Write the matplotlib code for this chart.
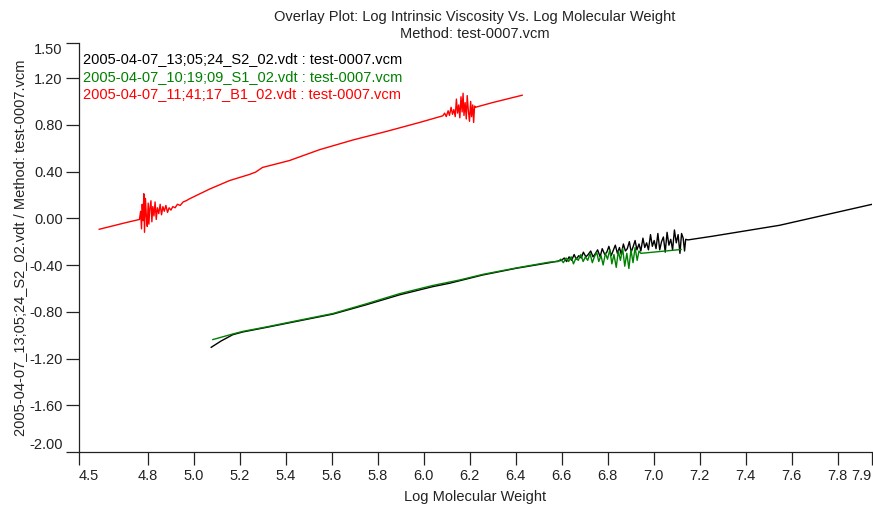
'''
Overlay plot of log intrinsic viscosity vs. log molecular weight for three runs.
'''
import matplotlib.pyplot as plt

plt.rcParams['font.family'] = ['Liberation Sans', 'DejaVu Sans']

# run S2 (black)
s2_x = [5.077, 5.12, 5.171, 5.214, 5.316, 5.461, 5.606, 5.751, 5.896, 6.04,
        6.113, 6.258, 6.403, 6.548,
        6.600, 6.612, 6.622, 6.633, 6.644, 6.655, 6.664, 6.675, 6.686, 6.695,
        6.706, 6.716, 6.727, 6.737, 6.748, 6.757, 6.768, 6.777, 6.788, 6.797,
        6.806, 6.816, 6.826, 6.834, 6.843, 6.852, 6.860, 6.869, 6.878, 6.886,
        6.895, 6.903, 6.912, 6.920, 6.928, 6.937, 6.945, 6.954, 6.962, 6.970,
        6.978, 6.987, 6.995, 7.003, 7.011, 7.019, 7.027, 7.035, 7.043, 7.051,
        7.059, 7.067, 7.075, 7.083, 7.091, 7.099, 7.107, 7.115, 7.122, 7.129,
        7.135, 7.140,
        7.15, 7.258, 7.548, 7.949]
s2_y = [-1.104, -1.05, -0.996, -0.973, -0.934, -0.877, -0.82, -0.74, -0.655, -0.585,
        -0.556, -0.485, -0.428, -0.38,
        -0.36, -0.34, -0.37, -0.33, -0.36, -0.31, -0.35, -0.32, -0.34, -0.29,
        -0.33, -0.31, -0.28, -0.33, -0.30, -0.27, -0.33, -0.26, -0.31, -0.29,
        -0.24, -0.32, -0.27, -0.23, -0.30, -0.25, -0.31, -0.22, -0.28, -0.26,
        -0.20, -0.29, -0.24, -0.19, -0.27, -0.22, -0.28, -0.17, -0.25, -0.21,
        -0.27, -0.14, -0.24, -0.19, -0.26, -0.13, -0.27, -0.20, -0.16, -0.29,
        -0.12, -0.23, -0.18, -0.27, -0.10, -0.21, -0.14, -0.30, -0.13, -0.17,
        -0.28, -0.18,
        -0.185, -0.153, -0.06, 0.119]

# run S1 (green)
s1_x = [5.084, 5.171, 5.214, 5.316, 5.461, 5.606, 5.751, 5.896, 6.04, 6.157,
        6.258, 6.403, 6.548,
        6.585, 6.597, 6.608, 6.620, 6.631, 6.642, 6.652, 6.663, 6.673, 6.684,
        6.694, 6.704, 6.714, 6.724, 6.734, 6.743, 6.753, 6.762, 6.772, 6.781,
        6.791, 6.800, 6.810, 6.819, 6.828, 6.838, 6.847, 6.856, 6.866, 6.875,
        6.884, 6.893, 6.902, 6.911, 6.920, 6.929, 6.937, 6.945,
        7.12]
s1_y = [-1.038, -0.99, -0.968, -0.93, -0.872, -0.815, -0.732, -0.645, -0.575, -0.528,
        -0.48, -0.425, -0.375,
        -0.37, -0.35, -0.38, -0.34, -0.37, -0.33, -0.39, -0.34, -0.36, -0.31,
        -0.37, -0.33, -0.36, -0.30, -0.38, -0.33, -0.29, -0.37, -0.32, -0.40,
        -0.30, -0.35, -0.27, -0.39, -0.31, -0.42, -0.28, -0.36, -0.26, -0.41,
        -0.30, -0.43, -0.27, -0.38, -0.25, -0.36, -0.28, -0.30,
        -0.267]

# run B1 (red)
b1_x = [4.59, 4.70,
        4.765, 4.770, 4.774, 4.777, 4.781, 4.784, 4.787, 4.791, 4.795, 4.799,
        4.803, 4.806, 4.810, 4.815, 4.819, 4.823, 4.828, 4.833, 4.838, 4.843,
        4.849, 4.855, 4.861, 4.867, 4.873, 4.880, 4.887, 4.894, 4.902, 4.910,
        4.920, 4.930, 4.942, 4.955, 4.968, 4.983,
        5.07, 5.157, 5.243, 5.27, 5.30, 5.417, 5.548, 5.693, 5.838, 5.983,
        6.084, 6.092, 6.099, 6.107, 6.113, 6.120, 6.126, 6.132, 6.138, 6.143,
        6.148, 6.153, 6.158, 6.163, 6.168, 6.172, 6.176, 6.181, 6.186, 6.190,
        6.195, 6.200, 6.205, 6.209, 6.214, 6.218, 6.222, 6.226,
        6.3, 6.429]
b1_y = [-0.094, -0.04,
        -0.01, 0.06, -0.09, 0.12, -0.02, 0.21, -0.12, 0.17, 0.02, -0.07,
        0.13, -0.05, 0.08, 0.15, -0.03, 0.10, 0.02, 0.14, -0.01, 0.09,
        0.04, 0.12, 0.03, 0.10, 0.06, 0.11, 0.05, 0.09, 0.07, 0.10,
        0.09, 0.12, 0.11, 0.14, 0.15, 0.167,
        0.25, 0.323, 0.375, 0.395, 0.435, 0.494, 0.587, 0.67, 0.743, 0.82,
        0.877, 0.90, 0.87, 0.92, 0.88, 0.95, 0.89, 0.93, 0.87, 1.02,
        0.90, 0.97, 0.86, 1.04, 0.91, 1.07, 0.88, 0.99, 0.85, 1.05,
        0.92, 0.83, 1.00, 0.87, 0.97, 0.82, 0.96, 0.95,
        0.99, 1.053]

labels = ['2005-04-07_13;05;24_S2_02.vdt : test-0007.vcm',
          '2005-04-07_10;19;09_S1_02.vdt : test-0007.vcm',
          '2005-04-07_11;41;17_B1_02.vdt : test-0007.vcm']
colors = ['black', '#008000', '#ff0000']

xticks = [4.5, 4.8, 5.0, 5.2, 5.4, 5.6, 5.8, 6.0, 6.2, 6.4, 6.6, 6.8, 7.0,
          7.2, 7.4, 7.6, 7.8, 7.95]
xtick_labels = ['4.5', '4.8', '5.0', '5.2', '5.4', '5.6', '5.8', '6.0', '6.2',
                '6.4', '6.6', '6.8', '7.0', '7.2', '7.4', '7.6', '7.8', '7.9']
yticks = [-2.0, -1.6, -1.2, -0.8, -0.4, 0.0, 0.4, 0.8, 1.2, 1.5]
ytick_labels = ['-2.00', '-1.60', '-1.20', '-0.80', '-0.40', '0.00', '0.40',
                '0.80', '1.20', '1.50']

fs = 10.5
fig = plt.figure(figsize=(8.73, 5.08), dpi=100)
ax = fig.add_axes([78.5 / 873, 56 / 508, 793.5 / 873, 409 / 508])

for x, y, c, lab in zip([s2_x, s1_x, b1_x], [s2_y, s1_y, b1_y], colors, labels):
    ax.plot(x, y, color=c, lw=1.0, label=lab)

ax.set_xlim(4.5, 7.95)
ax.set_ylim(-2.0, 1.5)
ax.set_xticks(xticks)
ax.set_xticklabels(xtick_labels)
ax.set_yticks(yticks)
ax.set_yticklabels(ytick_labels)
ax.tick_params(direction='out', length=9.4, width=0.9, labelsize=fs,
               colors='#222222')
ax.tick_params(axis='x', pad=3)
ax.tick_params(axis='y', pad=2)
for side in ['top', 'right']:
    ax.spines[side].set_visible(False)
for side in ['left', 'bottom']:
    ax.spines[side].set_linewidth(0.9)
    ax.spines[side].set_color('#222222')

# end labels sit inside the axis range
xl = ax.get_xticklabels()
xl[0].set_ha('left')
xl[-1].set_ha('right')
yl = ax.get_yticklabels()
yl[0].set_va('bottom')
yl[-1].set_va('top')

leg = ax.legend(loc='upper left', bbox_to_anchor=(-0.006, 1.0), frameon=False,
                handlelength=0, handletextpad=0, labelcolor='linecolor',
                fontsize=fs, borderaxespad=0.25, borderpad=0.4,
                labelspacing=0.22)
for h in leg.legend_handles:
    h.set_visible(False)

fig.text(475 / 873, 1 - 17 / 508, 'Overlay Plot: Log Intrinsic Viscosity Vs. Log Molecular Weight',
         ha='center', va='center', fontsize=fs, color='#222222')
fig.text(475 / 873, 1 - 34 / 508, 'Method: test-0007.vcm',
         ha='center', va='center', fontsize=fs, color='#222222')
fig.text(475 / 873, 1 - 497 / 508, 'Log Molecular Weight',
         ha='center', va='center', fontsize=fs, color='#222222')
fig.text(20 / 873, 1 - 248 / 508,
         '2005-04-07_13;05;24_S2_02.vdt / Method: test-0007.vcm',
         ha='center', va='center', rotation=90, fontsize=fs, color='#222222')

plt.savefig('out.png', dpi=100)
